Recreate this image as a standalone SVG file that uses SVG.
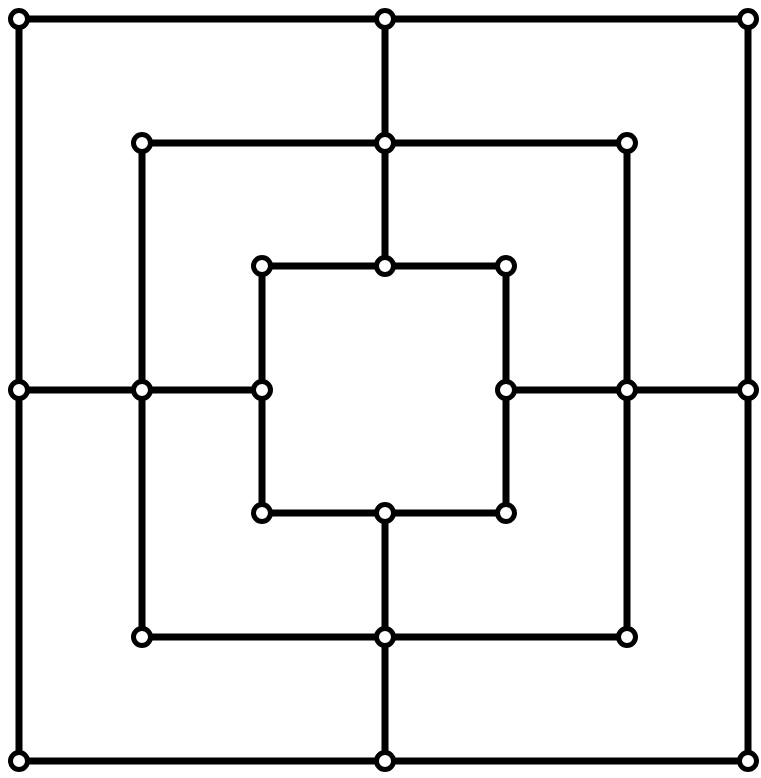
<svg xmlns="http://www.w3.org/2000/svg" width="761" height="778" viewBox="0 0 761 778">
<style>
.c line, .c rect{stroke:#000;stroke-width:7;fill:none}
.n circle{fill:#fff;stroke:#000;stroke-width:5}
</style>
<rect width="761" height="778" fill="#fff"/>
<g id="connectors" class="c">
<rect x="19" y="19" width="729" height="742"/>
<rect x="142" y="143" width="485" height="494"/>
<rect x="262" y="266" width="244" height="247"/>
<line x1="385" y1="19" x2="385" y2="266"/>
<line x1="385" y1="513" x2="385" y2="761"/>
<line x1="19" y1="390" x2="262" y2="390"/>
<line x1="506" y1="390" x2="748" y2="390"/>
</g>
<g class="n">
<g id="n1"><circle cx="19" cy="19" r="8.5"/></g>
<g id="n2"><circle cx="385" cy="19" r="8.5"/></g>
<g id="n3"><circle cx="748" cy="19" r="8.5"/></g>
<g id="n4"><circle cx="19" cy="390" r="8.5"/></g>
<g id="n5"><circle cx="748" cy="390" r="8.5"/></g>
<g id="n6"><circle cx="19" cy="761" r="8.5"/></g>
<g id="n7"><circle cx="385" cy="761" r="8.5"/></g>
<g id="n8"><circle cx="748" cy="761" r="8.5"/></g>
<g id="n9"><circle cx="142" cy="143" r="8.5"/></g>
<g id="n10"><circle cx="385" cy="143" r="8.5"/></g>
<g id="n11"><circle cx="627" cy="143" r="8.5"/></g>
<g id="n12"><circle cx="142" cy="390" r="8.5"/></g>
<g id="n13"><circle cx="627" cy="390" r="8.5"/></g>
<g id="n14"><circle cx="142" cy="637" r="8.5"/></g>
<g id="n15"><circle cx="385" cy="637" r="8.5"/></g>
<g id="n16"><circle cx="627" cy="637" r="8.5"/></g>
<g id="n17"><circle cx="262" cy="266" r="8.5"/></g>
<g id="n18"><circle cx="385" cy="266" r="8.5"/></g>
<g id="n19"><circle cx="506" cy="266" r="8.5"/></g>
<g id="n20"><circle cx="262" cy="390" r="8.5"/></g>
<g id="n21"><circle cx="506" cy="390" r="8.5"/></g>
<g id="n22"><circle cx="262" cy="513" r="8.5"/></g>
<g id="n23"><circle cx="385" cy="513" r="8.5"/></g>
<g id="n24"><circle cx="506" cy="513" r="8.5"/></g>
</g>
</svg>
